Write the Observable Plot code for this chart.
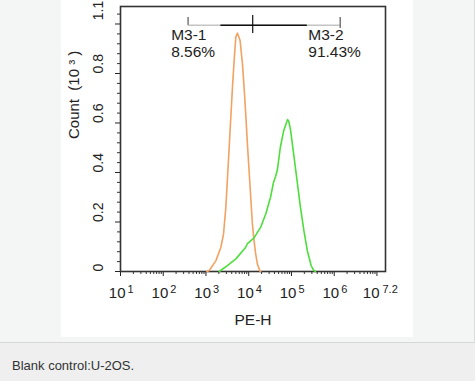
<!DOCTYPE html>
<html><head><meta charset="utf-8">
<script src="https://cdn.jsdelivr.net/npm/d3@7"></script>
<script src="https://cdn.jsdelivr.net/npm/@observablehq/plot@0.6"></script>
<style>
html,body{margin:0;padding:0;}
body{width:475px;height:381px;background:#eeefee;position:relative;overflow:hidden;font-family:"Liberation Sans",Arial,sans-serif;}
#box{position:absolute;left:0;top:0;width:474px;height:342px;background:#f4f6f5;border-right:1px solid #dcdedd;border-bottom:1px solid #d6d8d7;}
#panel{position:absolute;left:61px;top:0;width:352px;height:337px;background:#fff;}
#caption{position:absolute;left:12px;top:358px;font-size:13px;color:#333;}
</style>
</head><body>
<div id="box"><div id="panel"></div></div>
<div id="caption">Blank control:U-2OS.</div>
<script>
// Control (orange) histogram: PE-H intensity and count (10^3)
const controlX = [1047,1194,1710,2234,2576,2917,3192,3491,3811,4169,4560,4989,5458,6281,7129,7780,8511,9311,10186,11143,12190,13305,14555,15922,18323,19055];
const controlY = [0,0.004,0.044,0.098,0.152,0.26,0.381,0.502,0.623,0.745,0.853,0.947,0.963,0.933,0.839,0.745,0.637,0.516,0.408,0.300,0.193,0.125,0.071,0.031,0.001,0];
// Sample (green) histogram
const sampleX = [2042,3162,5012,8511,9333,11220,13183,19055,25119,32359,38019,42658,46774,54954,66069,75858,81283,87096,95499,112202,134896,162181,194984,234423,288403,331131,363078];
const sampleY = [0,0.024,0.051,0.098,0.113,0.125,0.135,0.179,0.233,0.30,0.36,0.385,0.41,0.502,0.57,0.60,0.614,0.605,0.57,0.476,0.368,0.26,0.166,0.085,0.024,0.005,0];

// Axes
const xExponents = [1,2,3,4,5,6];
const xEndExponent = "7.2";
const xMajorTicks = [1e1,1e2,1e3,1e4,1e5,1e6,1e7];
const yMajorTicks = [0,0.2,0.4,0.6,0.8,1.0];
const yLabelValues = [0,0.2,0.4,0.6,0.8];
const yLabelTexts = ["0","0.2","0.4","0.6","0.8"];
const yTopLabel = "1.1";
const yMinorTicks = [0.04,0.08,0.12,0.16,0.24,0.28,0.32,0.36,0.44,0.48,0.52,0.56,0.64,0.68,0.72,0.76,0.84,0.88,0.92,0.96,1.04];

// Markers (gates)
const gateNames = ["M3-1","M3-2"];
const gatePcts = ["8.56%","91.43%"];
const gateLabelX = [153,248000];
const gateBounds = [381,12390,1380000];

const xMinorTicks = [];
for (let e = 1; e <= 6; e++) for (let m = 2; m <= 9; m++) xMinorTicks.push(m * 10 ** e);

const control = controlX.map((x,i) => ({x, y: controlY[i]}));
const sample = sampleX.map((x,i) => ({x, y: sampleY[i]}));
const gates = gateNames.map((n,i) => ({name: n, pct: gatePcts[i], x: gateLabelX[i]}));

const font = '"Liberation Sans", Arial, sans-serif';
const chart = Plot.plot({
  width: 352, height: 337,
  marginLeft: 59, marginRight: 28, marginTop: 6, marginBottom: 66,
  x: {type: "log", domain: [10, 10 ** 7.2]},
  y: {domain: [0, 1.0707]},
  style: {fontFamily: font, fontSize: "15px", color: "#222", background: "transparent", overflow: "visible"},
  marks: [
    Plot.axisX({ticks: xMinorTicks, tickSize: 3, tickFormat: () => "", label: null, stroke: "#333"}),
    Plot.axisX({ticks: xMajorTicks, tickSize: 5, tickFormat: () => "", label: null, stroke: "#222"}),
    Plot.axisY({ticks: yMinorTicks, tickSize: 3, tickFormat: () => "", label: null, stroke: "#333"}),
    Plot.axisY({ticks: yMajorTicks, tickSize: 5, tickFormat: () => "", label: null, stroke: "#222"}),
    Plot.frame({stroke: "#333", strokeWidth: 1.6}),
    // gate lines
    Plot.ruleY([0.995], {x1: gateBounds[0], x2: gateBounds[2], stroke: "#c4c4c4", strokeWidth: 1.3}),
    Plot.ruleY([0.995], {x1: 2234, x2: 235000, stroke: "#111", strokeWidth: 1.3}),
    Plot.ruleX([gateBounds[0]], {y1: 0.995, y2: 1.026, stroke: "#555", strokeWidth: 1.2}),
    Plot.ruleX([gateBounds[1]], {y1: 0.962, y2: 1.034, stroke: "#111", strokeWidth: 1.2}),
    Plot.ruleX([gateBounds[2]], {y1: 0.982, y2: 1.026, stroke: "#555", strokeWidth: 1.2}),
    Plot.text(gates, {x: "x", y: 0.954, text: "name", textAnchor: "start", fontSize: 15.5, fill: "#222"}),
    Plot.text(gates, {x: "x", y: 0.885, text: "pct", textAnchor: "start", fontSize: 15.5, fill: "#222"}),
    // curves
    Plot.line(control, {x: "x", y: "y", stroke: "#f2a262", strokeWidth: 1.6}),
    Plot.line(sample, {x: "x", y: "y", stroke: "#4ede3c", strokeWidth: 1.6}),
    // x tick labels
    Plot.text(xExponents, {x: d => 10 ** d, text: () => "10", frameAnchor: "bottom", lineAnchor: "middle", dy: 22, dx: 5, textAnchor: "end", fontSize: 15, fill: "#222"}),
    Plot.text(xExponents, {x: d => 10 ** d, text: d => String(d), frameAnchor: "bottom", lineAnchor: "middle", dy: 18, dx: 7, textAnchor: "start", fontSize: 11, fill: "#222"}),
    Plot.text([xEndExponent], {x: d => 10 ** +d, text: () => "10", frameAnchor: "bottom", lineAnchor: "middle", dy: 22, dx: -6, textAnchor: "end", fontSize: 15, fill: "#222"}),
    Plot.text([xEndExponent], {x: d => 10 ** +d, text: d => d, frameAnchor: "bottom", lineAnchor: "middle", dy: 18, dx: -3, textAnchor: "start", fontSize: 11, fill: "#222"}),
    // y tick labels
    Plot.text(yLabelValues, {y: d => d, text: (d,i) => yLabelTexts[i], frameAnchor: "left", lineAnchor: "middle", dx: -22, rotate: -90, fontSize: 14, fill: "#222"}),
    Plot.text([yTopLabel], {frameAnchor: "top-left", lineAnchor: "middle", textAnchor: "middle", dx: -22, dy: 4, rotate: -90, fontSize: 14, fill: "#222"}),
    // axis titles
    Plot.text(["PE-H"], {frameAnchor: "bottom", lineAnchor: "middle", dy: 49, fontSize: 15.5, fill: "#222"}),
    Plot.text(["Count\u00a0\u00a0(10\u00a0\u00b3\u00a0)"], {frameAnchor: "left", lineAnchor: "middle", dx: -46, rotate: -90, fontSize: 15, fill: "#222"})
  ]
});
document.getElementById("panel").appendChild(chart);
</script>
</body></html>
